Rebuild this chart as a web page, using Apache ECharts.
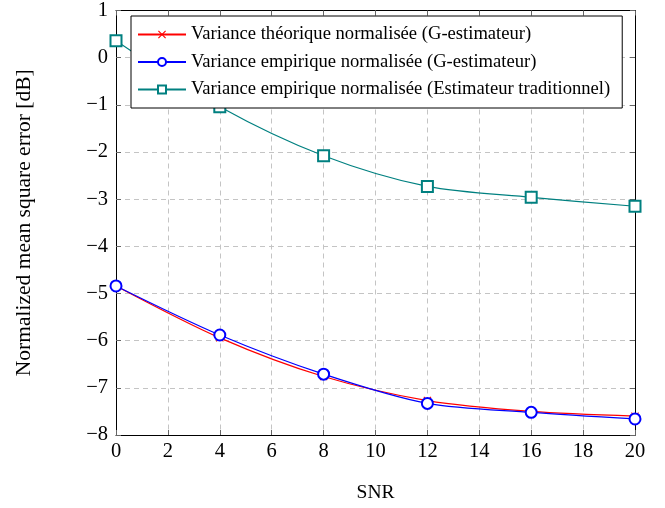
<!DOCTYPE html>
<html><head><meta charset="utf-8">
<script src="https://cdn.jsdelivr.net/npm/echarts@6/dist/echarts.min.js"></script>
<style>html,body{margin:0;padding:0;background:#fff}#c{width:665px;height:508px}</style>
</head><body><div id="c"></div>
<script>
const snr = [0, 4, 8, 12, 16, 20];
const theoG = [-4.84, -5.94, -6.76, -7.27, -7.50, -7.60];
const empG = [-4.84, -5.88, -6.71, -7.33, -7.52, -7.66];
const empTrad = [0.36, -1.04, -2.08, -2.73, -2.96, -3.15];
const names = [
  'Variance théorique normalisée (G-estimateur)',
  'Variance empirique normalisée (G-estimateur)',
  'Variance empirique normalisée (Estimateur traditionnel)'
];
const FONT = 'Liberation Serif';
const minus = v => String(v).replace('-', '\u2212');
const crossPath = 'path://M0,1L1,0L5,4L9,0L10,1L6,5L10,9L9,10L5,6L1,10L0,9L4,5Z';
const pair = (xs, ys) => xs.map((x, i) => [x, ys[i]]);
const chart = echarts.init(document.getElementById('c'), null, {renderer: 'canvas'});
const tickStyle = {show: true, inside: true, length: 5, lineStyle: {color: '#666', width: 1}};
const splitStyle = {show: true, lineStyle: {color: '#c4c4c4', type: [5, 4], width: 1}};
const lineAx = {show: true, onZero: false, lineStyle: {color: '#000', width: 1}};
chart.setOption({
  animation: false,
  textStyle: {fontFamily: FONT},
  grid: {left: 116, right: 30, top: 6, bottom: 72, containLabel: false},
  legend: {
    orient: 'vertical', left: 131, top: 16,
    backgroundColor: '#fff', borderColor: '#000', borderWidth: 1,
    padding: [9, 12, 9, 6], itemGap: 8.5, itemWidth: 48, itemHeight: 10,
    textStyle: {fontFamily: FONT, fontSize: 18.6, lineHeight: 19, color: '#000'},
    data: names
  },
  xAxis: [{
    type: 'value', min: 0, max: 20, interval: 2,
    name: 'SNR', nameLocation: 'middle', nameGap: 48,
    nameTextStyle: {fontFamily: FONT, fontSize: 19.5, color: '#000'},
    axisLine: lineAx,
    axisTick: tickStyle, splitLine: splitStyle,
    axisLabel: {fontFamily: FONT, fontSize: 20.5, color: '#000', margin: 6, formatter: minus}
  }, {
    type: 'value', min: 0, max: 20, interval: 2, position: 'top',
    axisLine: lineAx,
    axisTick: tickStyle, splitLine: {show: false}, axisLabel: {show: false}
  }],
  yAxis: [{
    type: 'value', min: -8, max: 1, interval: 1,
    name: 'Normalized mean square error [dB]', nameLocation: 'middle', nameGap: 81, nameRotate: 90,
    nameTextStyle: {fontFamily: FONT, fontSize: 21.5, color: '#000'},
    axisLine: lineAx,
    axisTick: tickStyle, splitLine: splitStyle,
    axisLabel: {fontFamily: FONT, fontSize: 20.5, color: '#000', margin: 8, formatter: minus}
  }, {
    type: 'value', min: -8, max: 1, interval: 1, position: 'right',
    axisLine: lineAx,
    axisTick: tickStyle, splitLine: {show: false}, axisLabel: {show: false}
  }],
  series: [{
    name: names[0], type: 'line', smooth: 0.3, data: pair(snr, theoG),
    symbol: crossPath, symbolSize: 8, clip: false,
    lineStyle: {color: '#ff0000', width: 1.2},
    itemStyle: {color: '#ff0000'}, z: 3
  }, {
    name: names[1], type: 'line', smooth: 0.3, data: pair(snr, empG),
    symbol: 'emptyCircle', symbolSize: 11, clip: false,
    lineStyle: {color: '#0000ff', width: 1.2},
    itemStyle: {color: '#0000ff', borderColor: '#0000ff', borderWidth: 1.2}, z: 4
  }, {
    name: names[2], type: 'line', smooth: 0.3, data: pair(snr, empTrad),
    symbol: 'emptyRect', symbolSize: 11, clip: false,
    lineStyle: {color: '#008080', width: 1.2},
    itemStyle: {color: '#008080', borderColor: '#008080', borderWidth: 1.2}, z: 2
  }]
});
</script></body></html>
